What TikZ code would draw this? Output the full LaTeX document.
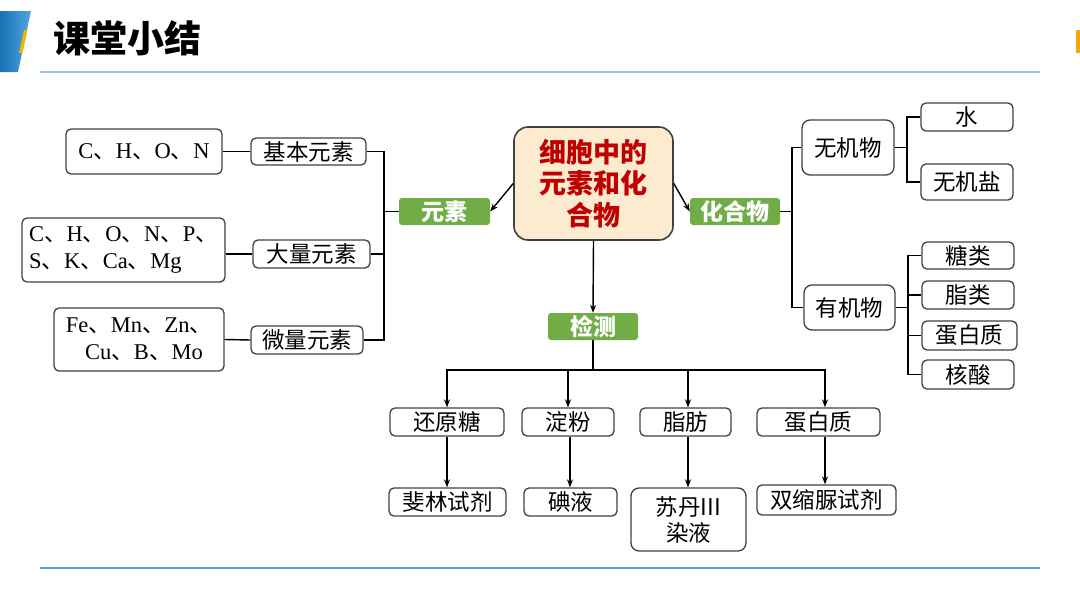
\documentclass[tikz,border=0pt]{standalone}
\usepackage{fontspec}
\setmainfont{Liberation Serif}
\newfontfamily\cjk{Noto Sans CJK SC}
\usetikzlibrary{arrows.meta,calc}
\definecolor{boxc}{HTML}{404040}
\definecolor{grn}{HTML}{70AD47}
\definecolor{cfill}{HTML}{FCEBCF}
\definecolor{cred}{HTML}{C00000}
\definecolor{topl}{HTML}{9DC3E6}
\definecolor{botl}{HTML}{5B9BD5}
\definecolor{bluea}{HTML}{1A6FB8}
\definecolor{blueb}{HTML}{4FA8DE}
\definecolor{yel}{HTML}{F0B400}
\definecolor{org}{HTML}{F5A800}
\newcommand\dn{{\cjk 、}}
\begin{document}
\begin{tikzpicture}[x=1pt,y=-1pt,
  sz/.style 2 args={minimum width=#1pt, minimum height=#2pt},
  box/.style={draw=boxc, line width=1.3pt, rounded corners=5pt, inner sep=0pt, align=center,
    font=\cjk\fontsize{22.5}{26}\selectfont},
  serifbox/.style={box, font=\fontsize{22.5}{26.5}\selectfont},
  gr/.style={fill=grn, rounded corners=3pt, inner sep=0pt, text=white,
    font=\cjk\bfseries\fontsize{23}{26}\selectfont},
  cbox/.style={draw=boxc, fill=cfill, line width=1.6pt, rounded corners=14pt, inner sep=0pt,
    align=center, text=cred, font=\cjk\bfseries\fontsize{27}{31.5}\selectfont},
  ln/.style={draw=black, line width=1.4pt},
  arr/.style={ln, -{Stealth[length=8pt,width=6pt]}}]
\path[use as bounding box] (0,0) rectangle (1080,608);

% header decorations
\shade[left color=bluea, right color=blueb] (0,11) -- (31,11) -- (18,72) -- (0,72) -- cycle;
\fill[yel] (24,30) -- (27.5,30) -- (22.5,53) -- (19,53) -- cycle;
\fill[org] (1076,30) rectangle (1080,53);
\draw[topl, line width=2pt] (40,72) -- (1040,72);
\draw[botl, line width=1.6pt] (40,568) -- (1040,568);
\node[font=\cjk\bfseries\fontsize{37}{40}\selectfont] (title) at (127,38) {课堂小结};

% left: elements
\node[serifbox, sz={156}{45}] (e1) at (144,151.5) {C\dn H\dn O\dn N};
\node[box, sz={115}{27}] (jb) at (308.5,151.5) {基本元素};
\node[serifbox, sz={203}{64}, align=left] (e2) at (123.5,250) {C\dn H\dn O\dn N\dn P\dn\\S\dn K\dn Ca\dn Mg\hspace{22pt}};
\node[box, sz={117}{28}] (dl) at (311.5,254) {大量元素};
\node[serifbox, sz={170}{63}] (e3) at (139,339.5) {Fe\dn Mn\dn Zn\dn\\\hspace{10pt}Cu\dn B\dn Mo};
\node[box, sz={112}{28}] (wl) at (307,340) {微量元素};

% center
\node[gr, sz={91}{27}] (ys) at (444.5,211.5) {元素};
\node[cbox, sz={159}{113}] (cc) at (593.5,183.5) {细胞中的\\元素和化\\合物};
\node[gr, sz={90}{27}] (hh) at (735,211.5) {化合物};
\node[gr, sz={90}{27}] (jc) at (593,326.5) {检测};

% right: compounds
\node[box, sz={92}{55}, rounded corners=8pt] (wj) at (848,147.5) {无机物};
\node[box, sz={91}{45}, rounded corners=8pt] (yj) at (849.5,307.5) {有机物};
\node[box, sz={92}{28}] (shui) at (967,117) {水};
\node[box, sz={92}{36}] (yan) at (967,182) {无机盐};
\node[box, sz={92}{27}] (t1) at (968,255.5) {糖类};
\node[box, sz={92}{28}] (t2) at (968,295) {脂类};
\node[box, sz={95}{29}] (t3) at (969.5,335.5) {蛋白质};
\node[box, sz={92}{29}] (t4) at (968,374.5) {核酸};

% bottom: detection
\node[box, sz={114}{28}] (b1) at (447,422) {还原糖};
\node[box, sz={92}{28}] (b2) at (568,422) {淀粉};
\node[box, sz={91}{28}] (b3) at (685.5,422) {脂肪};
\node[box, sz={123}{28}] (b4) at (818.5,422) {蛋白质};
\node[box, sz={117}{28}] (r1) at (447.5,502) {斐林试剂};
\node[box, sz={93}{28}] (r2) at (570.5,502) {碘液};
\node[box, sz={115}{63}, rounded corners=8pt] (r3) at (688.5,519.5) {苏丹{\fontsize{23}{26}\selectfont III}\\染液};
\node[box, sz={139}{30}] (r4) at (826.5,500) {双缩脲试剂};

% coordinates for brackets
\coordinate (lb) at (384,211.5);
\coordinate (rb) at (792,211.5);
\coordinate (wb) at (907,147.5);
\coordinate (yb) at (908,307.5);
\coordinate (split) at (593,370);

% left connectors
\draw[ln] (e1.east) -- (jb.west);
\draw[ln] (e2.east |- dl.west) -- (dl.west);
\draw[ln] (e3.east) -- (wl.west);
\draw[ln] (jb.east) -| (lb);
\draw[ln] (wl.east) -| (lb);
\draw[ln] (dl.east) -| (lb);
\draw[ln] (lb) -- (ys.west);

% center arrows
\draw[arr] (cc.west) -- (ys.east);
\draw[arr] (cc.east) -- (hh.west);
\draw[arr] (cc.south) -- (jc.north);

% right connectors
\draw[ln] (hh.east) -- (rb);
\draw[ln] (rb) |- (wj.west);
\draw[ln] (rb) |- (yj.west);
\draw[ln] (wj.east) -- (wb);
\draw[ln] (wb) |- (shui.west);
\draw[ln] (wb) |- (yan.west);
\draw[ln] (yj.east) -- (yb);
\draw[ln] (yb) |- (t1.west);
\draw[ln] (yb) |- (t2.west);
\draw[ln] (yb) |- (t3.west);
\draw[ln] (yb) |- (t4.west);

% bottom connectors
\draw[ln] (jc.south) -- (split);
\draw[arr] (split) -| (b1.north);
\draw[arr] (split) -| (b2.north);
\draw[arr] (split) -| ([xshift=2.5pt]b3.north);
\draw[arr] (split) -| ([xshift=6.5pt]b4.north);
\draw[arr] (b1.south) -- (b1.south |- r1.north);
\draw[arr] ([xshift=2pt]b2.south) -- ([xshift=2pt]b2.south |- r2.north);
\draw[arr] ([xshift=2.5pt]b3.south) -- ([xshift=2.5pt]b3.south |- r3.north);
\draw[arr] ([xshift=6.5pt]b4.south) -- ([xshift=6.5pt]b4.south |- r4.north);
\end{tikzpicture}
\end{document}
